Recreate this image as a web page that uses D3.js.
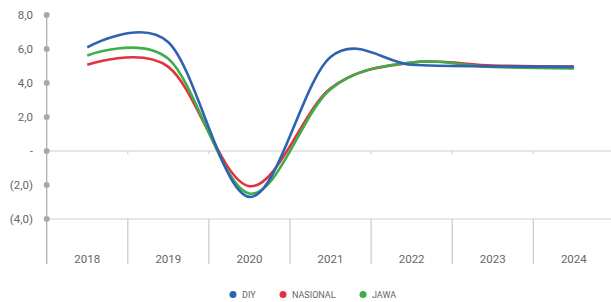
<!DOCTYPE html>
<html><head><meta charset="utf-8">
<script src="https://cdn.jsdelivr.net/npm/d3@7"></script>
<style>body{margin:0;background:#fff}svg{display:block}text{font-family:Roboto,"Liberation Sans",sans-serif}</style>
</head><body>
<svg id="c" width="611" height="302"></svg>
<script>
const years = ["2018","2019","2020","2021","2022","2023","2024"];
const diy = [6.1, 6.4, -2.7, 5.53, 5.07, 4.98, 4.95];
const nasional = [5.07, 4.95, -2.07, 3.69, 5.2, 5.03, 4.97];
const jawa = [5.62, 5.42, -2.5, 3.64, 5.21, 4.94, 4.85];
const seriesNames = ["DIY","NASIONAL","JAWA"];
const seriesColors = ["#2f62b1","#e2323f","#3ead4b"];
const yTicks = [8, 6, 4, 2, 0, -2, -4];
const yTickLabels = ["8,0","6,0","4,0","2,0","-","(2,0)","(4,0)"];

const svg = d3.select("#c");
const x = d3.scaleBand().domain(years).range([46.7, 614.4]);
const y = d3.scaleLinear().domain([-4, 8]).range([219, 15]);

// horizontal lines at 0 and -4
svg.append("line").attr("x1",x.range()[0]).attr("x2",611).attr("y1",y(0)).attr("y2",y(0)).attr("stroke","#d0d0d0").attr("stroke-width",1.2);
svg.append("line").attr("x1",x.range()[0]).attr("x2",611).attr("y1",y(-4)).attr("y2",y(-4)).attr("stroke","#d0d0d0").attr("stroke-width",1.2);
// small ticks on zero line, separators below -4 line
years.slice(1).forEach(d=>{
  svg.append("line").attr("x1",x(d)).attr("x2",x(d)).attr("y1",y(0)).attr("y2",y(0)+3).attr("stroke","#c8c8c8").attr("stroke-width",1);
  svg.append("line").attr("x1",x(d)).attr("x2",x(d)).attr("y1",y(-4)).attr("y2",264).attr("stroke","#c8c8c8").attr("stroke-width",1.2);
});
// y axis
svg.append("line").attr("x1",x.range()[0]).attr("x2",x.range()[0]).attr("y1",y(8)).attr("y2",264).attr("stroke","#aaaaaa").attr("stroke-width",1.2);
svg.selectAll(".dot").data(yTicks).enter().append("circle").attr("cx",x.range()[0]).attr("cy",d=>y(d)).attr("r",3).attr("fill","#a8a8a8");
svg.selectAll(".yl").data(yTicks).enter().append("text").attr("x",33).attr("y",d=>y(d)+4).attr("text-anchor","end")
  .attr("font-size",11.5).attr("fill","#666").text((d,i)=>yTickLabels[i]);
// x labels
svg.selectAll(".xl").data(years).enter().append("text").attr("x",d=>x(d)+x.bandwidth()/2).attr("y",263).attr("text-anchor","middle")
  .attr("font-size",11.5).attr("fill","#666").text(d=>d);

const line = d3.line().x((d,i)=>x(years[i])+x.bandwidth()/2).y(d=>y(d)).curve(d3.curveCatmullRom.alpha(0));
const data = [nasional, jawa, diy];
const cols = [seriesColors[1], seriesColors[2], seriesColors[0]];
data.forEach((s,k)=>{
  svg.append("path").attr("d",line(s)).attr("fill","none").attr("stroke",cols[k]).attr("stroke-width",2.6);
});
// legend
const lx = [233, 283, 363];
seriesNames.forEach((n,i)=>{
  svg.append("circle").attr("cx",lx[i]).attr("cy",294.5).attr("r",3.5).attr("fill",seriesColors[i]);
  svg.append("text").attr("x",lx[i]+9).attr("y",298).attr("font-size",9).attr("fill","#666").text(n);
});
</script>
</body></html>
